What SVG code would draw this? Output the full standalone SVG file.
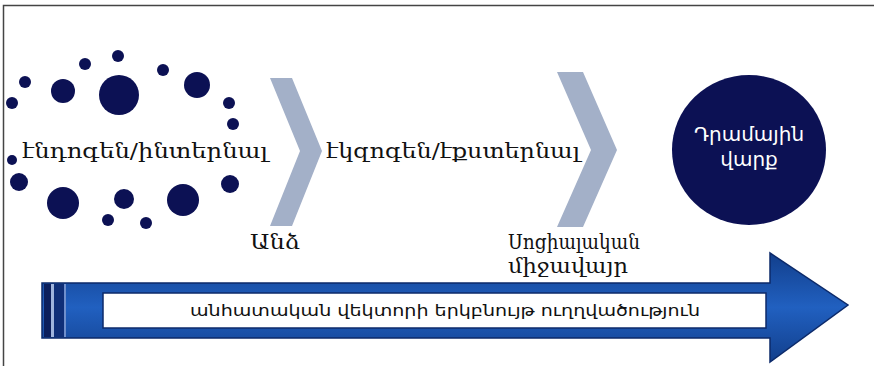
<svg xmlns="http://www.w3.org/2000/svg" width="874" height="366" viewBox="0 0 874 366">
<defs>
<style>
.dot{fill:#0c1154}
.chev{fill:#a3b0c8}
.ser{font-family:"DejaVu Serif","Liberation Serif",serif;fill:#111}
.san{font-family:"DejaVu Sans","Noto Sans",sans-serif}
</style>
<linearGradient id="shaft" x1="0" y1="0" x2="0" y2="1">
<stop offset="0" stop-color="#123f8c"/>
<stop offset="0.5" stop-color="#2160c0"/>
<stop offset="1" stop-color="#123f8c"/>
</linearGradient>
</defs>
<rect width="874" height="366" fill="#fff"/>
<path d="M3.5 366 V5.5 H874" fill="none" stroke="#444" stroke-width="1.5"/>
<g id="dots">
<circle class="dot" cx="118" cy="56" r="6"/>
<circle class="dot" cx="85" cy="64" r="6"/>
<circle class="dot" cx="163" cy="70" r="6"/>
<circle class="dot" cx="25" cy="82" r="6"/>
<circle class="dot" cx="63" cy="91" r="12"/>
<circle class="dot" cx="119" cy="95" r="20"/>
<circle class="dot" cx="197" cy="85" r="13"/>
<circle class="dot" cx="12" cy="103" r="6"/>
<circle class="dot" cx="229" cy="103" r="6"/>
<circle class="dot" cx="233" cy="124" r="6"/>
<circle class="dot" cx="12" cy="160" r="5"/>
<circle class="dot" cx="19" cy="182" r="9"/>
<circle class="dot" cx="230" cy="184" r="9"/>
<circle class="dot" cx="63" cy="203" r="16"/>
<circle class="dot" cx="124" cy="199" r="10"/>
<circle class="dot" cx="183" cy="200" r="16"/>
<circle class="dot" cx="108" cy="220" r="6"/>
<circle class="dot" cx="146" cy="223" r="6"/>
</g>
<g id="chevron1"><polygon class="chev" points="270,78 292,78 322,151 292,226 270,226 300,151"/></g>
<g id="chevron2"><polygon class="chev" points="557,72 583,72 617,150 583,227 557,227 591,150"/></g>
<g id="endogen"><text class="ser" x="22" y="158" font-size="21" textLength="246" lengthAdjust="spacingAndGlyphs">էնդոգեն/ինտերնալ</text></g>
<g id="exogen"><text class="ser" x="326" y="158" font-size="21" textLength="254" lengthAdjust="spacingAndGlyphs">էկզոգեն/էքստերնալ</text></g>
<g id="person"><text class="ser" x="250" y="249" font-size="21" textLength="50" lengthAdjust="spacingAndGlyphs">Անձ</text></g>
<g id="social"><text class="ser" x="508" y="249" font-size="21" textLength="132" lengthAdjust="spacingAndGlyphs">Սոցիալական</text><text class="ser" x="508" y="273" font-size="21" textLength="120" lengthAdjust="spacingAndGlyphs">միջավայր</text></g>
<g id="money">
<ellipse cx="749" cy="150" rx="77" ry="75" fill="#0c1154"/>
<text class="san" x="749" y="141" font-size="20" fill="#fff" text-anchor="middle">Դրամային</text>
<text class="san" x="749" y="166" font-size="20" fill="#fff" text-anchor="middle">վարք</text>
</g>
<g id="arrow">
<polygon points="42,283 770,283 770,253 848,305 770,362 770,338 42,338" fill="url(#shaft)" stroke="#0c2a6a" stroke-width="1.5"/>
<rect x="44" y="284" width="7" height="53" fill="#0c1f5c"/>
<rect x="51" y="284" width="3" height="53" fill="#9fb4dc"/>
<rect x="54" y="284" width="10" height="53" fill="#0f2f78"/>
<rect x="64" y="284" width="2" height="53" fill="#6f8fcc"/>
<rect x="103" y="293" width="663" height="35" fill="#fff" stroke="#0c2a6a" stroke-width="1.5"/>
<text class="san" x="190" y="316" font-size="16" fill="#111" textLength="510" lengthAdjust="spacingAndGlyphs">անհատական վեկտորի երկբնույթ ուղղվածություն</text>
</g>
</svg>
